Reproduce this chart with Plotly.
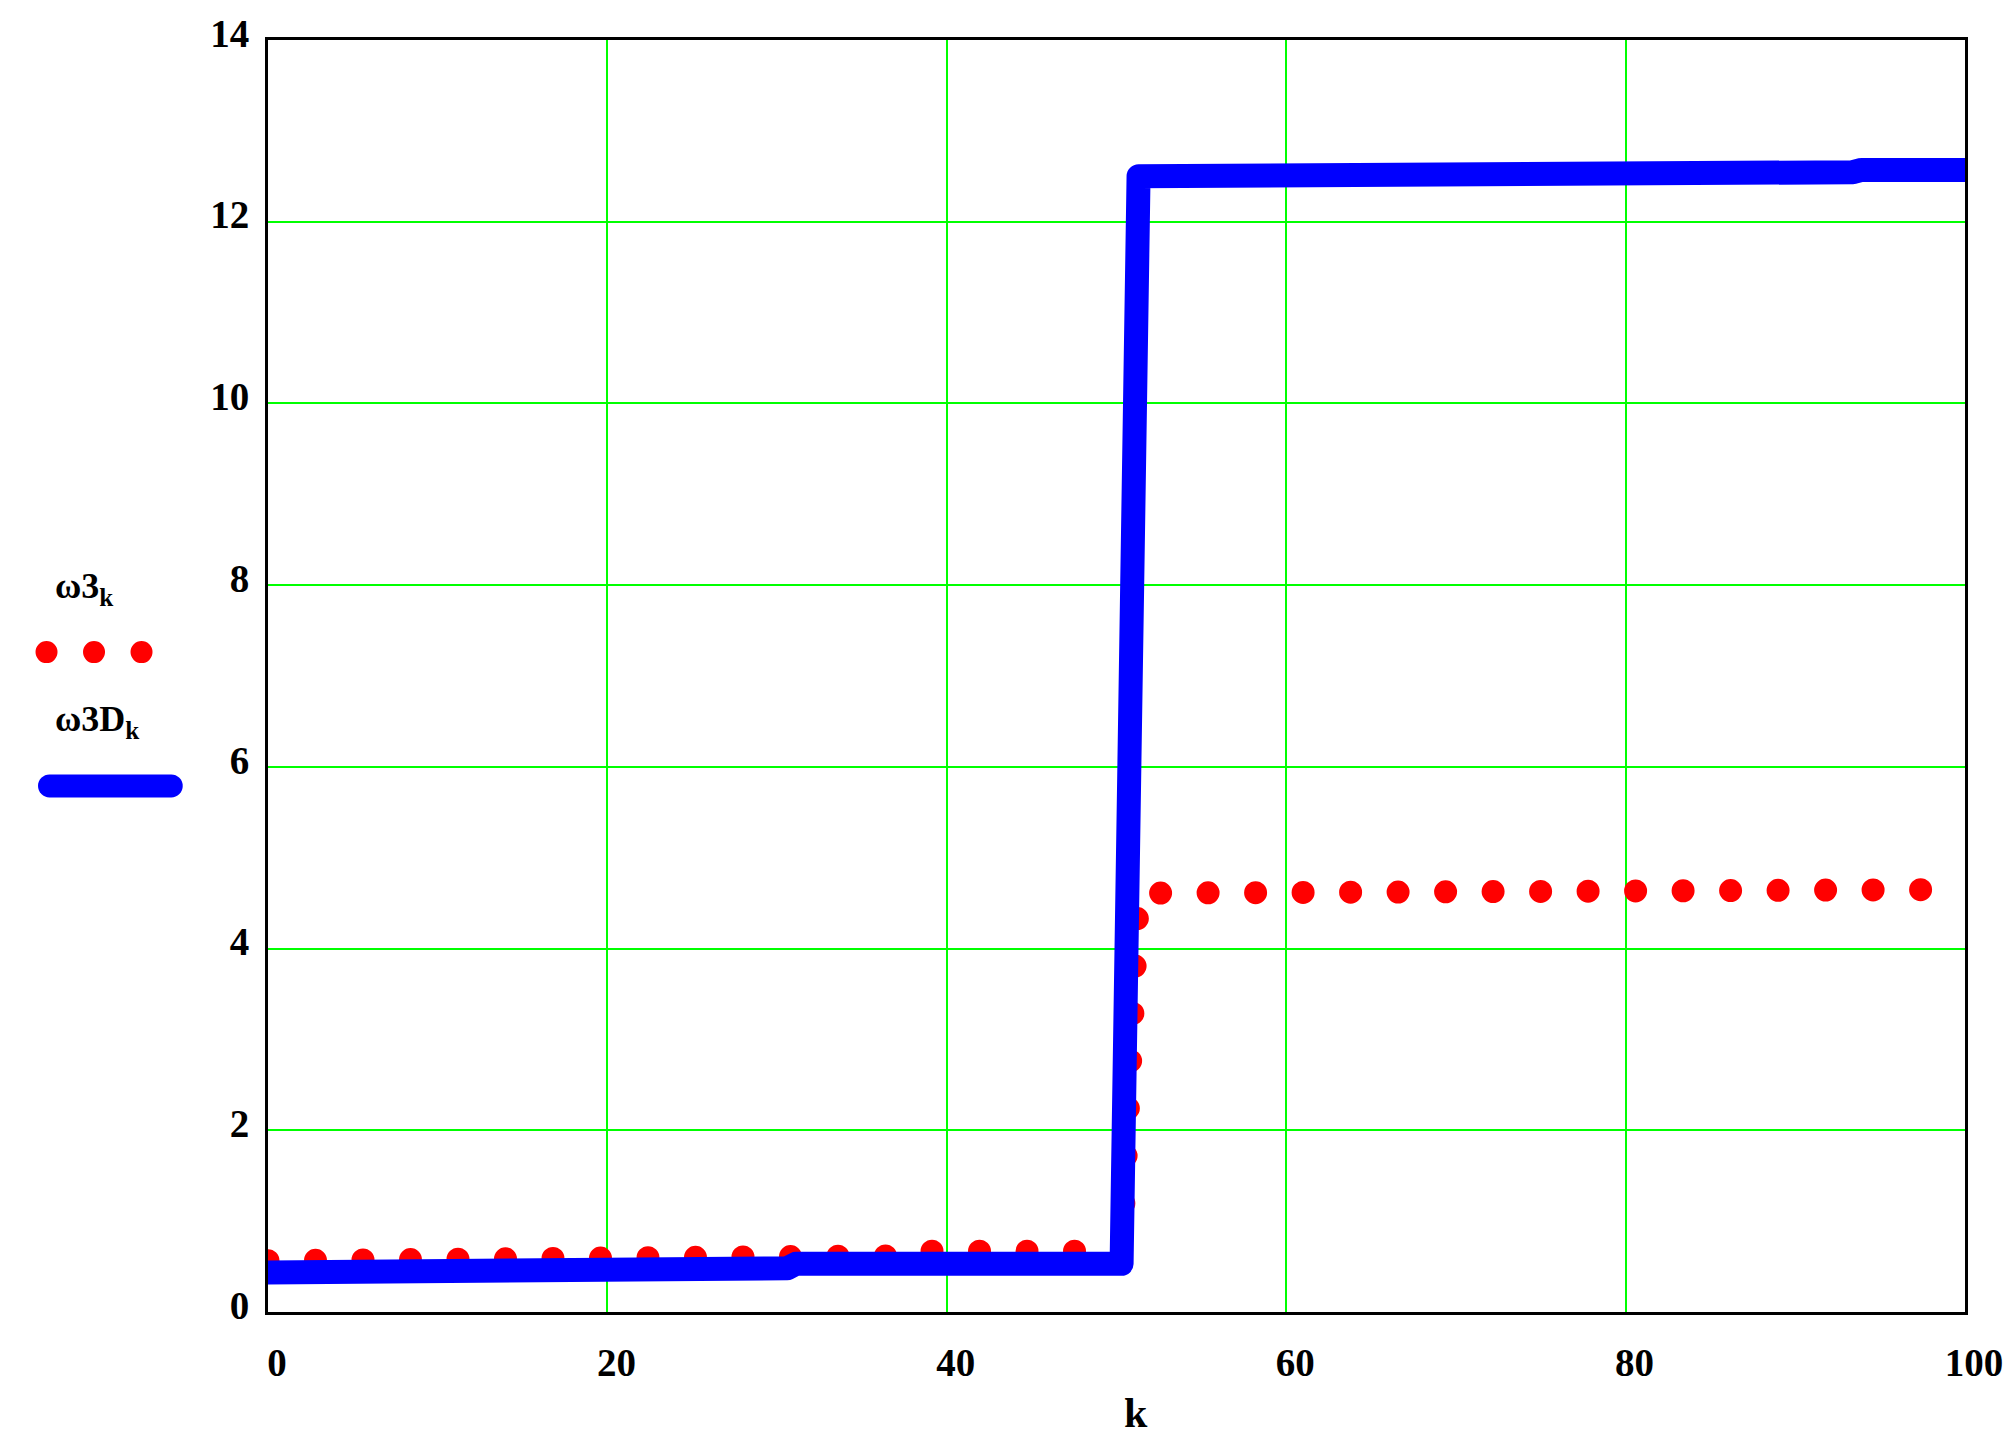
import plotly.graph_objects as go

# ---- data ----
k_w3 = [0, 4.0, 4.6, 38.0, 38.6, 50.3, 51.3, 71.8, 72.3, 100]
w3 = [0.565, 0.565, 0.62, 0.62, 0.67, 0.67, 4.61, 4.61, 4.65, 4.65]

k_w3D = [0, 13.3, 13.8, 30.6, 31.1, 50.3, 51.3, 68.3, 68.8, 93.4, 93.9, 100]
w3D = [0.435, 0.435, 0.482, 0.482, 0.53, 0.53, 12.50, 12.50, 12.545, 12.545, 12.57, 12.57]

x_ticks = [0, 20, 40, 60, 80, 100]
y_ticks = [0, 2, 4, 6, 8, 10, 12, 14]

W, H = 2015, 1446
L, R, T, B = 268, 46, 34, 134
PW, PH = W - L - R, H - T - B


def px_x(p):
    return (p - L) / PW


def px_y(p):
    return (H - B - p) / PH


SERIF = "Liberation Serif, Times New Roman, serif"

fig = go.Figure()
fig.add_trace(go.Scatter(
    x=k_w3, y=w3, mode="lines", name="ω3k",
    line=dict(color="#FF0000", width=23, dash="0px,47.5px"),
    showlegend=False,
))
fig.add_trace(go.Scatter(
    x=k_w3D, y=w3D, mode="lines", name="ω3Dk",
    line=dict(color="#0000FF", width=24),
    showlegend=False,
))

axis_common = dict(
    showline=True, linecolor="black", linewidth=3, mirror=True,
    showgrid=True, gridcolor="#00FF00", gridwidth=2,
    zeroline=False, ticks="",
    tickfont=dict(family=SERIF, size=39, color="black", weight="bold"),
)
fig.update_xaxes(range=[0, 100], tickvals=x_ticks, ticklabelshift=9,
                 ticklabelstandoff=14, **axis_common)
fig.update_yaxes(range=[0, 14], tickvals=y_ticks, ticklabelshift=-7,
                 ticklabelstandoff=8, **axis_common)

# legend (Mathcad style: label above sample)
shapes = [
    dict(type="line", xref="paper", yref="paper",
         x0=px_x(46), x1=px_x(141.5), y0=px_y(649), y1=px_y(649),
         line=dict(color="#FF0000", width=22, dash="0px,47.5px")),
    dict(type="line", xref="paper", yref="paper",
         x0=px_x(49), x1=px_x(171), y0=px_y(783.5), y1=px_y(783.5),
         line=dict(color="#0000FF", width=23)),
]
annotations = [
    dict(text="<b>ω3<sub>k</sub></b>", xref="paper", yref="paper",
         x=px_x(52), y=px_y(585), xanchor="left", yanchor="middle",
         showarrow=False, font=dict(family=SERIF, size=36, color="black")),
    dict(text="<b>ω3D<sub>k</sub></b>", xref="paper", yref="paper",
         x=px_x(52), y=px_y(719), xanchor="left", yanchor="middle",
         showarrow=False, font=dict(family=SERIF, size=36, color="black")),
    dict(text="<b>k</b>", xref="paper", yref="paper",
         x=px_x(1138), y=px_y(1413), xanchor="center", yanchor="middle",
         showarrow=False, font=dict(family=SERIF, size=42, color="black")),
]

fig.update_layout(
    width=W, height=H, autosize=False,
    margin=dict(l=L, r=R, t=T, b=B, pad=0),
    paper_bgcolor="white", plot_bgcolor="white",
    shapes=shapes, annotations=annotations,
)

post = """
document.body.style.margin='0';
document.body.style.overflow='hidden';
var st=document.createElement('style');
st.textContent='.js-line, .shapelayer path { stroke-linecap: round !important; stroke-linejoin: round !important; }';
document.head.appendChild(st);
"""
fig.write_html("out.html", post_script=post, config={"displayModeBar": False})
